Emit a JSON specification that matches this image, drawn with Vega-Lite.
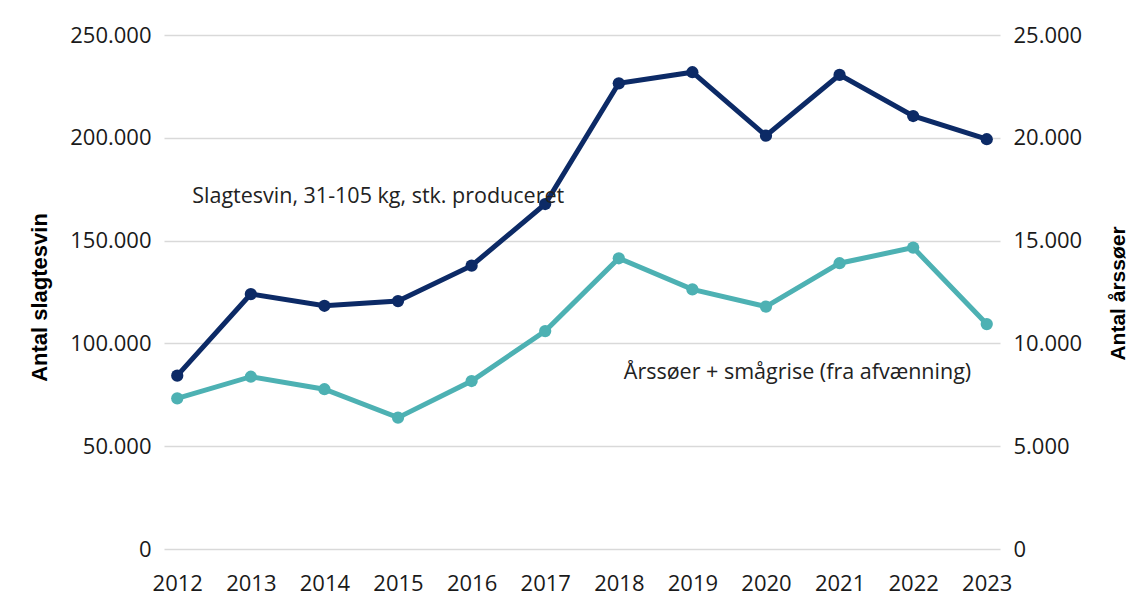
{
  "$schema": "https://vega.github.io/schema/vega-lite/v6.json",
  "width": 836,
  "height": 514,
  "autosize": {"type": "none"},
  "padding": {"left": 164, "top": 35, "right": 129, "bottom": 55},
  "background": "white",
  "config": {
    "view": {"stroke": null},
    "font": "Open Sans",
    "locale": {"number": {"decimal": ",", "thousands": ".", "grouping": [3], "currency": ["", " kr."]}}
  },
  "datasets": {
    "main": [
      {"year": 2012, "slagtesvin": 84300, "aarssoer": 7330},
      {"year": 2013, "slagtesvin": 124000, "aarssoer": 8380},
      {"year": 2014, "slagtesvin": 118300, "aarssoer": 7770},
      {"year": 2015, "slagtesvin": 120600, "aarssoer": 6390},
      {"year": 2016, "slagtesvin": 137800, "aarssoer": 8170},
      {"year": 2017, "slagtesvin": 167800, "aarssoer": 10600},
      {"year": 2018, "slagtesvin": 226500, "aarssoer": 14140},
      {"year": 2019, "slagtesvin": 231900, "aarssoer": 12630},
      {"year": 2020, "slagtesvin": 201000, "aarssoer": 11790},
      {"year": 2021, "slagtesvin": 230600, "aarssoer": 13900},
      {"year": 2022, "slagtesvin": 210600, "aarssoer": 14660},
      {"year": 2023, "slagtesvin": 199300, "aarssoer": 10940}
    ],
    "ann": [
      {"year": 2012, "value": 168300, "label": "Slagtesvin, 31-105 kg, stk. produceret", "shift": "a"},
      {"year": 2018, "value": 82700, "label": "Årssøer + smågrise (fra afvænning)", "shift": "b"}
    ]
  },
  "data": {"name": "main"},
  "encoding": {
    "x": {
      "field": "year",
      "type": "ordinal",
      "scale": {"type": "point", "padding": 0.18},
      "axis": {
        "title": null,
        "labelAngle": 0,
        "domain": false,
        "ticks": false,
        "grid": false,
        "labelPadding": 24,
        "labelFontSize": 22,
        "labelColor": "#1a1a1a",
        "labelFont": "Open Sans"
      }
    }
  },
  "layer": [
    {
      "layer": [
        {
          "mark": {"type": "line", "color": "#0c2a66", "strokeWidth": 5, "point": {"filled": true, "size": 150, "color": "#0c2a66"}},
          "encoding": {
            "y": {
              "field": "slagtesvin",
              "type": "quantitative",
              "scale": {"domain": [0, 250000], "nice": false},
              "axis": {
                "title": "Antal slagtesvin",
                "orient": "left",
                "values": [0, 50000, 100000, 150000, 200000, 250000],
                "format": ",d",
                "domain": false,
                "ticks": false,
                "grid": true,
                "gridColor": "#d9d9d9",
                "gridWidth": 1.5,
                "labelPadding": 13,
                "labelFontSize": 22,
                "labelColor": "#1a1a1a",
                "labelFont": "Open Sans",
                "titleFont": "Liberation Sans",
                "titleFontWeight": "bold",
                "titleFontSize": 22,
                "titleColor": "#000000",
                "titleAngle": -90,
                "titleX": -118,
                "titleY": 262,
                "titleAlign": "center",
                "titleBaseline": "alphabetic"
              }
            }
          }
        },
        {
          "data": {"name": "ann"},
          "transform": [{"filter": "datum.shift === 'a'"}],
          "mark": {"type": "text", "align": "left", "baseline": "alphabetic", "dx": 15, "fontSize": 21.5, "font": "Open Sans", "color": "#222222"},
          "encoding": {
            "y": {"field": "value", "type": "quantitative", "title": "Antal slagtesvin"},
            "text": {"field": "label"}
          }
        },
        {
          "data": {"name": "ann"},
          "transform": [{"filter": "datum.shift === 'b'"}],
          "mark": {"type": "text", "align": "left", "baseline": "alphabetic", "dx": 5, "fontSize": 21.5, "font": "Open Sans", "color": "#222222"},
          "encoding": {
            "y": {"field": "value", "type": "quantitative", "title": "Antal slagtesvin"},
            "text": {"field": "label"}
          }
        }
      ]
    },
    {
      "mark": {"type": "line", "color": "#4db1b3", "strokeWidth": 5, "point": {"filled": true, "size": 150, "color": "#4db1b3"}},
      "encoding": {
        "y": {
          "field": "aarssoer",
          "type": "quantitative",
          "scale": {"domain": [0, 25000], "nice": false},
          "axis": {
            "title": "Antal årssøer",
            "orient": "right",
            "values": [0, 5000, 10000, 15000, 20000, 25000],
            "format": ",d",
            "domain": false,
            "ticks": false,
            "grid": false,
            "labelPadding": 13,
            "labelFontSize": 22,
            "labelColor": "#1a1a1a",
            "labelFont": "Open Sans",
            "titleFont": "Liberation Sans",
            "titleFontWeight": "bold",
            "titleFontSize": 21,
            "titleColor": "#000000",
            "titleAngle": -90,
            "titleX": 128,
            "titleY": 258,
            "titleAlign": "center",
            "titleBaseline": "bottom"
          }
        }
      }
    }
  ],
  "resolve": {"scale": {"y": "independent"}}
}
